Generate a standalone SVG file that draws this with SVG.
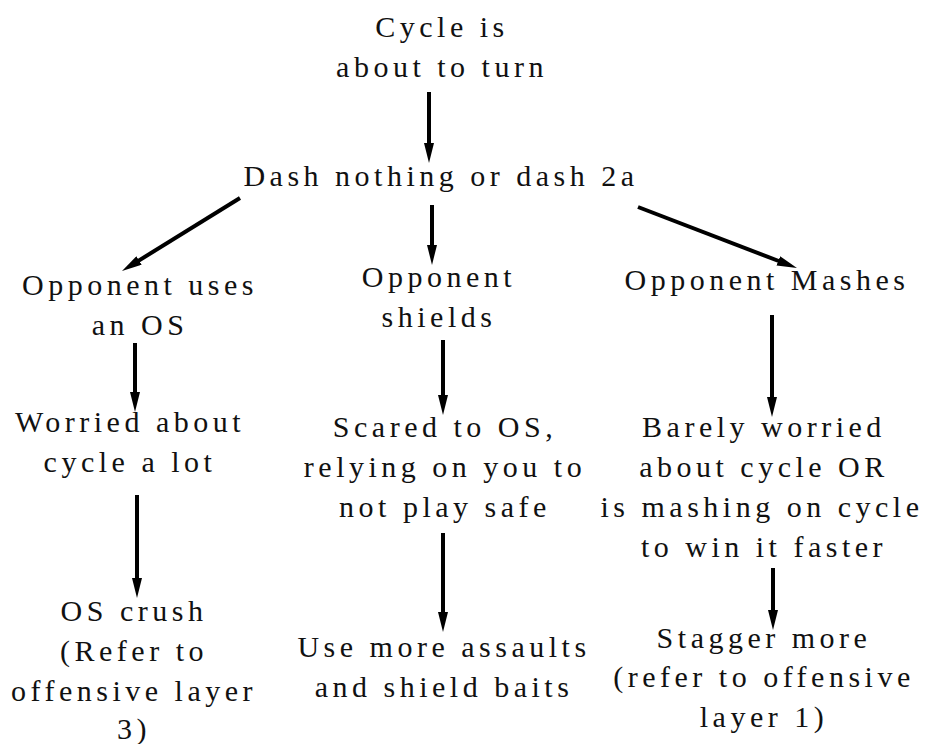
<svg xmlns="http://www.w3.org/2000/svg" width="927" height="744" viewBox="0 0 927 744">
<defs>
<style>
text{font-family:"Liberation Serif","Times New Roman",serif;font-size:30px;letter-spacing:4.5px;fill:#111;text-anchor:middle}
.c line{stroke:#000;stroke-width:4;marker-end:url(#ah)}
</style>
<marker id="ah" viewBox="0 0 20 10" refX="6" refY="5" markerWidth="20" markerHeight="10" markerUnits="userSpaceOnUse" orient="auto">
<path d="M0,0 L20,5 L0,10 z" fill="#000"/>
</marker>
</defs>
<rect width="927" height="744" fill="#fff"/>
<g class="c" id="connectors">
<line x1="429" y1="92" x2="429" y2="149"/>
<line x1="240" y1="198" x2="133.9" y2="263.6"/>
<line x1="432" y1="205" x2="432" y2="251"/>
<line x1="638" y1="207" x2="783.9" y2="263"/>
<line x1="135" y1="343" x2="135" y2="398"/>
<line x1="443" y1="340" x2="443" y2="401"/>
<line x1="772" y1="315" x2="772" y2="403"/>
<line x1="137" y1="495" x2="137" y2="584"/>
<line x1="443" y1="533" x2="443" y2="618"/>
<line x1="773" y1="568" x2="773" y2="616"/>
</g>
<g id="n_cycle"><text x="442" y="37">Cycle is</text><text x="442" y="77">about to turn</text></g>
<g id="n_dash"><text x="441" y="186">Dash nothing or dash 2a</text></g>
<g id="n_os"><text x="140" y="295">Opponent uses</text><text x="140" y="335">an OS</text></g>
<g id="n_shields"><text x="439" y="287">Opponent</text><text x="439" y="327">shields</text></g>
<g id="n_mashes"><text x="767" y="290">Opponent Mashes</text></g>
<g id="n_worried"><text x="130" y="432">Worried about</text><text x="130" y="472">cycle a lot</text></g>
<g id="n_scared"><text x="445" y="437">Scared to OS,</text><text x="445" y="477">relying on you to</text><text x="445" y="517">not play safe</text></g>
<g id="n_barely"><text x="764" y="437">Barely worried</text><text x="764" y="477">about cycle OR</text><text x="762" y="517">is mashing on cycle</text><text x="764" y="557">to win it faster</text></g>
<g id="n_crush"><text x="134" y="621">OS crush</text><text x="134" y="661">(Refer to</text><text x="134" y="701">offensive layer</text><text x="134" y="739">3)</text></g>
<g id="n_assaults"><text x="444" y="657">Use more assaults</text><text x="444" y="697">and shield baits</text></g>
<g id="n_stagger"><text x="764" y="648">Stagger more</text><text x="764" y="687">(refer to offensive</text><text x="764" y="727">layer 1)</text></g>
</svg>
